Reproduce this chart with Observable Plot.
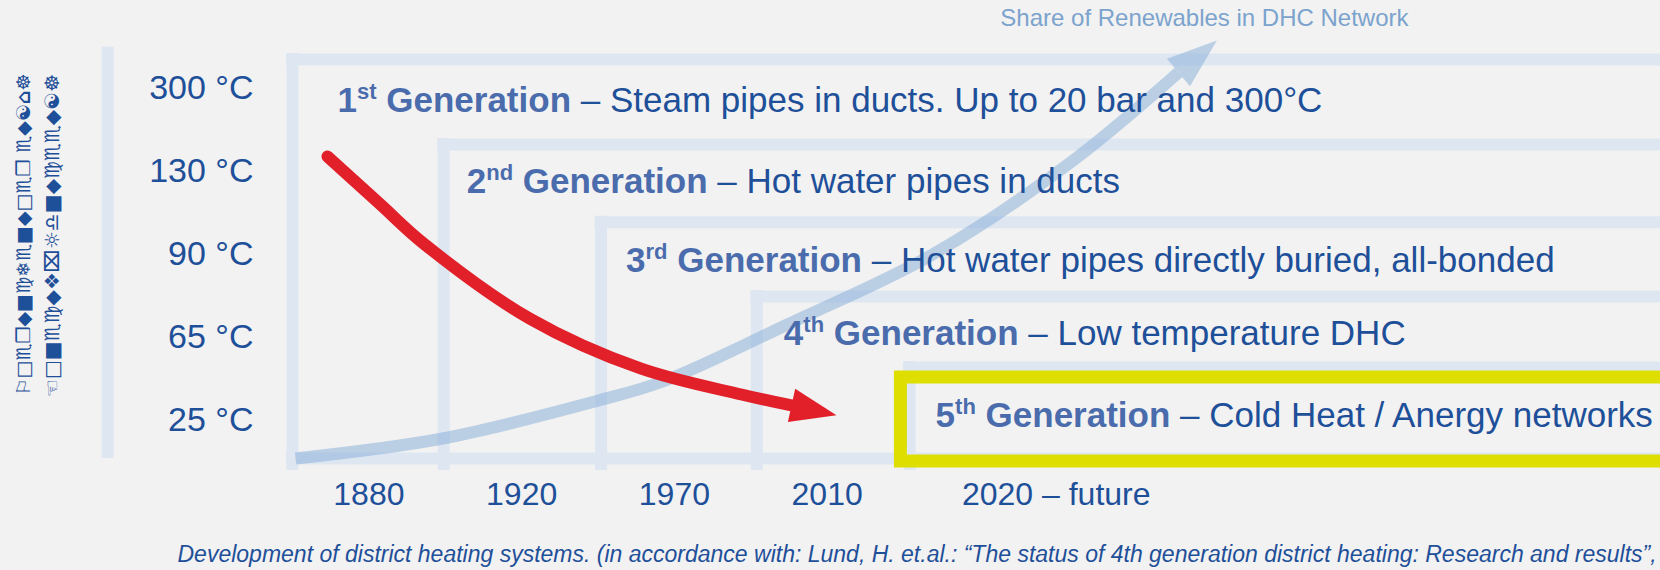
<!DOCTYPE html>
<html>
<head>
<meta charset="utf-8">
<script src="https://cdn.jsdelivr.net/npm/d3@7"></script>
<script src="https://cdn.jsdelivr.net/npm/@observablehq/plot@0.6"></script>
<style>
  html, body { margin: 0; padding: 0; background: #f2f2f2; overflow: hidden; }
  #chart { width: 1660px; height: 570px; overflow: hidden; }
  svg { display: block; }
</style>
</head>
<body>
<div id="chart"></div>
<script>
// ---------------- data ----------------
const generations   = [1, 2, 3, 4, 5];
const genNumber     = ["1", "2", "3", "4", "5"];
const genSuffix     = ["st", "nd", "rd", "th", "th"];
const genDescription = [
  "Steam pipes in ducts. Up to 20 bar and 300°C",
  "Hot water pipes in ducts",
  "Hot water pipes directly buried, all-bonded",
  "Low temperature DHC",
  "Cold Heat / Anergy networks"
];
const tempLabels    = ["300 °C", "130 °C", "90 °C", "65 °C", "25 °C"];
const yearLabels    = ["1880", "1920", "1970", "2010", "2020 – future"];
const yearPos       = [1.5, 2.5, 3.5, 4.5, 6.0];          // era centres (generation units)
const genStart      = [1, 1.99, 3.02, 4.04, 5.04];        // start of each generation (x)
const boxTop        = [0.65, 1.675, 2.61, 3.505, 4.36];   // temperature level of each box (y)
const baseRow       = 5.458;                              // common bottom of the boxes
const rightEdge     = 10.6;
const axisBar       = {x: -0.21, y1: 0.5, y2: 5.458};
const highlight     = {x1: 4.983, x2: 10.6, y1: 4.482, y2: 5.494}; // 5th generation
// temperature trend (red arrow)
const tempTrendX = [1.229, 1.576, 1.858, 2.552, 3.278, 3.939, 4.267];
const tempTrendY = [1.819, 2.398, 2.867, 3.771, 4.373, 4.687, 4.819];
// share of renewables (blue arrow)
const renewX = [1.020, 1.982, 3.003, 3.442, 4.254, 5.190, 6.093, 6.800];
const renewY = [5.458, 5.217, 4.759, 4.518, 3.831, 3.000, 1.892, 0.807];
const renewTitle = "Share of Renewables in DHC Network";
const axisTitle1 = "⚐□♏❒◆■♍❄♏■◆□♏❒ ♏◆☯⌂☸";
const axisTitle2 = "☜□■♏♍◆❖⌧☼♎■◆♍♏♏◆☯☸";
const caption = "Development of district heating systems. (in accordance with: Lund, H. et.al.: “The status of 4th generation district heating: Research and results”,";

// ---------------- styles ----------------
const FONT = "'Liberation Sans', Arial, Helvetica, sans-serif";
const BOX = "#dee7f1";
const YEL = "#dede00";
const RED = "#e2202a";
const LIGHT = "#8db0d8";
const DARK = "#1e4f99";
const BOLD = "#4a6cad";
const ROW = 35, SUP = 22;
const rowIndent = [45, 23, 25, 27, 26];
const rowDrop = [53, 48, 50, 49, 60];

const xDomain = [1, 5], xRange = [292, 903];
const yDomain = [1, 5], yRange = [88, 420];
const sx = d3.scaleLinear(xDomain, xRange), sy = d3.scaleLinear(yDomain, yRange);

const idx = d3.range(generations.length);
const redPts = tempTrendX.map((x, i) => ({x, y: tempTrendY[i]}));
const bluePts = renewX.map((x, i) => ({x, y: renewY[i]}));

function head(pts, len, half) {
  const a = pts[pts.length - 2], b = pts[pts.length - 1];
  const ax = sx(a.x), ay = sy(a.y), bx = sx(b.x), by = sy(b.y);
  const d = Math.hypot(bx - ax, by - ay);
  const ux = (bx - ax) / d, uy = (by - ay) / d, nx = -uy, ny = ux;
  return [
    [bx + nx * half, by + ny * half],
    [bx + ux * len, by + uy * len],
    [bx - nx * half, by - ny * half]
  ].map(([px, py]) => ({x: sx.invert(px), y: sy.invert(py)}));
}

const ctx = document.createElement("canvas").getContext("2d");
function tw(str, font) { ctx.font = font; return ctx.measureText(str).width; }

const marks = [
  Plot.ruleX([axisBar], {x: "x", y1: "y1", y2: "y2", stroke: BOX, strokeWidth: 12}),
  Plot.ruleY([baseRow], {y: d => d, x1: () => genStart[0], x2: () => rightEdge, stroke: BOX, strokeWidth: 12, insetLeft: -6}),
  Plot.ruleX(idx, {x: i => genStart[i], y1: i => boxTop[i], y2: () => baseRow, stroke: BOX, strokeWidth: 12, insetTop: -6, insetBottom: -12}),
  Plot.ruleY(idx, {y: i => boxTop[i], x1: i => genStart[i], x2: () => rightEdge, stroke: BOX, strokeWidth: 12, insetLeft: -6}),
  Plot.rect([highlight], {x1: "x1", x2: "x2", y1: "y1", y2: "y2", fill: "none", stroke: YEL, strokeWidth: 13}),
  Plot.line(bluePts, {x: "x", y: "y", curve: "catmull-rom", stroke: LIGHT, strokeOpacity: 0.55, strokeWidth: 12, strokeLinecap: "butt"}),
  Plot.line(head(bluePts, 50, 18), {x: "x", y: "y", fill: LIGHT, fillOpacity: 0.55, stroke: "none"}),
  Plot.line(redPts, {x: "x", y: "y", curve: "catmull-rom", stroke: RED, strokeWidth: 12, strokeLinecap: "round"}),
  Plot.line(head(redPts, 46, 17), {x: "x", y: "y", fill: RED, stroke: "none"}),
  // temperature labels
  Plot.text(idx, {y: i => generations[i], text: i => tempLabels[i], frameAnchor: "left", dx: 253, textAnchor: "end", lineAnchor: "middle", fontSize: 34, fontFamily: FONT, fill: DARK}),
  // year labels
  Plot.text(idx, {x: i => yearPos[i], text: i => yearLabels[i], frameAnchor: "bottom", dy: -66, lineAnchor: "bottom", textAnchor: "middle", fontSize: 32, fontFamily: FONT, fill: DARK}),
  // renewables title
  Plot.text([bluePts[bluePts.length - 1]], {x: "x", y: "y", text: () => renewTitle, dx: 26, dy: -46, lineAnchor: "bottom", textAnchor: "middle", fontSize: 24, fontFamily: FONT, fill: "#7ba3cd"}),
  // garbled axis title (two lines, symbol font fallback)
  Plot.text([axisTitle1], {text: d => d, frameAnchor: "top-left", dx: 23, dy: 234, rotate: -90, textAnchor: "middle", lineAnchor: "middle", fontSize: 19, fontWeight: "bold", fontFamily: "'DejaVu Sans'", fill: DARK}),
  Plot.text([axisTitle2], {text: d => d, frameAnchor: "top-left", dx: 52, dy: 235, rotate: -90, textAnchor: "middle", lineAnchor: "middle", fontSize: 20, fontWeight: "bold", fontFamily: "'DejaVu Sans'", fill: DARK}),
  // caption
  Plot.text([caption], {text: d => d, frameAnchor: "bottom-left", dx: 177, dy: -9, lineAnchor: "bottom", textAnchor: "start", fontSize: 23, fontStyle: "italic", fontFamily: FONT, fill: DARK})
];

// generation rows (bold number + superscript + "Generation" + description)
for (const i of idx) {
  const fBold = `bold ${ROW}px ${FONT}`;
  const wNum = tw(genNumber[i], fBold);
  const wSup = tw(genSuffix[i], `bold ${SUP}px ${FONT}`);
  const wGen = tw(" Generation", fBold);
  const base = {x: () => genStart[i], y: () => boxTop[i], textAnchor: "start", lineAnchor: "bottom", fontFamily: FONT};
  const x0 = rowIndent[i], y0 = rowDrop[i];
  marks.push(Plot.text([i], {...base, text: () => genNumber[i], dx: x0, dy: y0, fontSize: ROW, fontWeight: "bold", fill: BOLD}));
  marks.push(Plot.text([i], {...base, text: () => genSuffix[i], dx: x0 + wNum, dy: y0 - 13, fontSize: SUP, fontWeight: "bold", fill: BOLD}));
  marks.push(Plot.text([i], {...base, text: () => " Generation", dx: x0 + wNum + wSup, dy: y0, fontSize: ROW, fontWeight: "bold", fill: BOLD}));
  marks.push(Plot.text([i], {...base, text: () => " – " + genDescription[i], dx: x0 + wNum + wSup + wGen, dy: y0, fontSize: ROW, fill: DARK}));
}

const chart = Plot.plot({
  width: 1660,
  height: 570,
  margin: 0,
  x: {domain: xDomain, range: xRange},
  y: {domain: yDomain, range: yRange},
  axis: null,
  style: {background: "#f2f2f2", overflow: "hidden"},
  marks
});
document.getElementById("chart").appendChild(chart);
</script>
</body>
</html>
